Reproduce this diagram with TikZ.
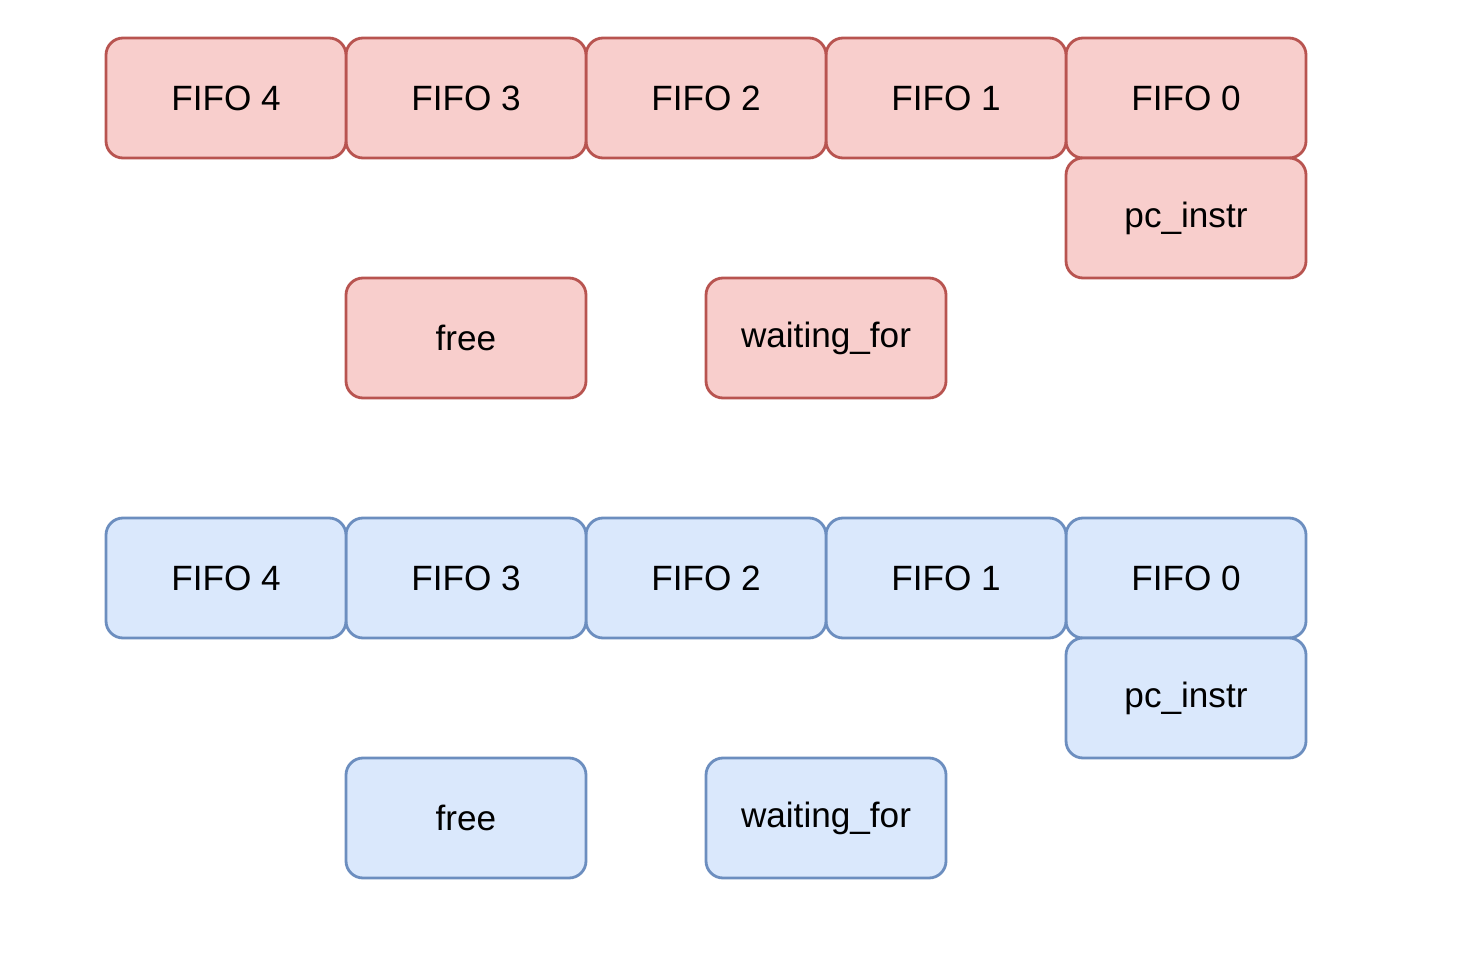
\documentclass[tikz,border=0pt]{standalone}
\usepackage{fontspec}
\setmainfont{Liberation Sans}
\definecolor{redfill}{HTML}{F8CECC}
\definecolor{redline}{HTML}{B85450}
\definecolor{bluefill}{HTML}{DAE8FC}
\definecolor{blueline}{HTML}{6C8EBF}
\tikzset{
  cell/.style={rounded corners=.34cm, line width=1.6pt, minimum width=4.8cm, minimum height=2.4cm, inner sep=0pt, font=\fontsize{20}{24}\selectfont},
  redcell/.style={cell, draw=redline, fill=redfill},
  bluecell/.style={cell, draw=blueline, fill=bluefill}
}
\begin{document}
\begin{tikzpicture}
\useasboundingbox (0,0) rectangle (29.22,-19.46);
\foreach \i in {0,...,4}{
  \node[redcell](rfifo\i) at ({23.72-4.8*\i},-1.96) {FIFO \i};
  \node[bluecell](bfifo\i) at ({23.72-4.8*\i},-11.56) {FIFO \i};
}
\node[redcell](rpc) at (23.72,-4.36) {pc\_instr};
\node[redcell](rfree) at (9.32,-6.76) {free};
\node[redcell](rwait) at (16.52,-6.76) {waiting\_for};

\node[bluecell](bpc) at (23.72,-13.96) {pc\_instr};
\node[bluecell](bfree) at (9.32,-16.36) {free};
\node[bluecell](bwait) at (16.52,-16.36) {waiting\_for};
\end{tikzpicture}
\end{document}
